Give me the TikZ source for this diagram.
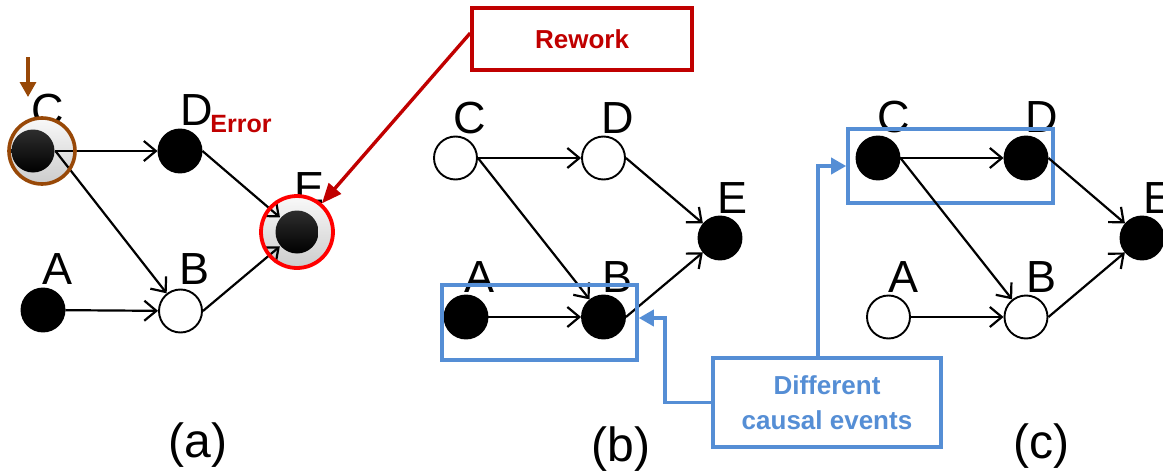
\documentclass[tikz,border=0pt]{standalone}
\usepackage{fontspec}
\setmainfont{Liberation Sans}
\usetikzlibrary{arrows.meta,calc}
\definecolor{rwred}{HTML}{C00000}
\definecolor{brn}{HTML}{984807}
\definecolor{cblue}{HTML}{558ED5}
\begin{document}
\begin{tikzpicture}[x=1pt,y=-1pt,
  ev/.style={circle,draw=black,line width=1.9pt,minimum size=43pt,inner sep=0pt},
  on/.style={ev,fill=black},
  off/.style={ev,fill=white},
  lbl/.style={font=\fontsize{45}{50}\selectfont,anchor=base,inner sep=0pt},
  subcap/.style={font=\fontsize{48}{56}\selectfont,anchor=base,inner sep=0pt},
  edge/.style={line width=2.2pt,-{Straight Barb[length=12pt,width=20pt,line width=2.2pt]}},
  bluebox/.style={draw=cblue,line width=3.6pt,rectangle,inner sep=0pt},
  bluearrow/.style={draw=cblue,line width=3.6pt,-{Triangle[length=15pt,width=16pt]}},
  note/.style={rectangle,line width=3.6pt,inner sep=0pt,align=center,font=\bfseries\fontsize{26}{35}\selectfont},
]
\useasboundingbox (0,0) rectangle (1163,471);

% ---------- labels (behind circles) ----------
\node[lbl] (laC) at (48,125) {C};
\node[lbl] (laD) at (197,125) {D};
\node[lbl] (laE) at (310,203) {E};
\node[lbl] (laA) at (58,284) {A};
\node[lbl] (laB) at (195,284) {B};
\node[font=\bfseries\fontsize{25}{30}\selectfont,text=rwred,anchor=base,inner sep=0pt] (err) at (241,132) {Error};

\node[lbl] (lbC) at (470,133) {C};
\node[lbl] (lbD) at (618,133) {D};
\node[lbl] (lbE) at (733,213) {E};
\node[lbl] (lbA) at (480,292) {A};
\node[lbl] (lbB) at (618,292) {B};

\node[lbl] (lcC) at (894,132) {C};
\node[lbl] (lcD) at (1042,132) {D};
\node[lbl] (lcE) at (1158,213) {E};
\node[lbl] (lcA) at (903,292) {A};
\node[lbl] (lcB) at (1041,292) {B};

\node[subcap] (capa) at (198,457) {(a)};
\node[subcap] (capb) at (621,461) {(b)};
\node[subcap] (capc) at (1041,458) {(c)};

% ---------- panel (a) ----------
\shade[top color=gray!5,bottom color=gray!40] (42,151) circle[radius=33];
\shade[top color=gray!5,bottom color=gray!40] (297,232) circle[radius=36];
\node[ev,draw=none,top color=black!82,bottom color=black] (aC) at (33,151) {};
\node[on] (aD) at (180,151) {};
\node[ev,draw=none,top color=black!82,bottom color=black] (aE) at (297,232) {};
\node[on] (aA) at (43,310) {};
\node[off] (aB) at (180.5,311) {};
\draw[edge] (aC.east) -- (aD);
\draw[edge] (aC.east) -- (aB);
\draw[edge] (aD.east) -- (aE);
\draw[edge] (aB.east) -- (aE);
\draw[edge] (aA) -- (aB);
\node[circle,draw=brn,line width=3.6pt,minimum size=66pt,inner sep=0pt] (aCring) at (42,151) {};
\node[circle,draw=red,line width=3.8pt,minimum size=72pt,inner sep=0pt] (aEring) at (297,232) {};
\coordinate (brtop) at (28,57);
\coordinate (brtip) at (28,97);
\draw[brn,line width=3.2pt,-{Triangle[length=15pt,width=16pt]}] (brtop) -- (brtip);

% Rework
\node[note,draw=rwred,text=rwred,minimum width=220pt,minimum height=62pt] (rework) at (582,39) {Rework};
\coordinate (rwstart) at ($(rework.north west)!0.41!(rework.south west)$);
\draw[rwred,line width=3.4pt,-{Triangle[length=20pt,width=16pt]}] (rwstart) -- (aEring);

% ---------- panel (b) ----------
\node[off] (bC) at (455.5,158) {};
\node[off] (bD) at (603.5,158) {};
\node[on] (bE) at (720,238) {};
\node[on] (bA) at (466,317) {};
\node[on] (bB) at (603.5,317) {};
\draw[edge] (bC) -- (bD);
\draw[edge] (bC.east) -- (bB);
\draw[edge] (bD.east) -- (bE);
\draw[edge] (bB.east) -- (bE);
\draw[edge] (bA) -- (bB);
\node[bluebox,minimum width=195pt,minimum height=75pt] (boxb) at (539.5,322.5) {};

% ---------- panel (c) ----------
\node[bluebox,minimum width=205pt,minimum height=74pt] (boxc) at (950.5,166) {};
\node[on] (cC) at (878,158) {};
\node[on] (cD) at (1026,158) {};
\node[on] (cE) at (1142,238) {};
\node[off] (cA) at (888.5,317) {};
\node[off] (cB) at (1026,317) {};
\draw[edge] (cC) -- (cD);
\draw[edge] (cC.east) -- (cB);
\draw[edge] (cD.east) -- (cE);
\draw[edge] (cB.east) -- (cE);
\draw[edge] (cA) -- (cB);

% ---------- Different causal events ----------
\node[note,draw=cblue,text=cblue,fill=white,minimum width=228pt,minimum height=89pt] (diff) at (827,402.5) {Different\\causal events};
\coordinate (bend1) at (665,318);
\draw[bluearrow] (diff.west) -| (bend1) -- (bend1 -| boxb.east);
\coordinate (bend2) at (818,166);
\draw[bluearrow] (bend2 |- diff.north) -- (bend2) -- (boxc.west);
\end{tikzpicture}
\end{document}
